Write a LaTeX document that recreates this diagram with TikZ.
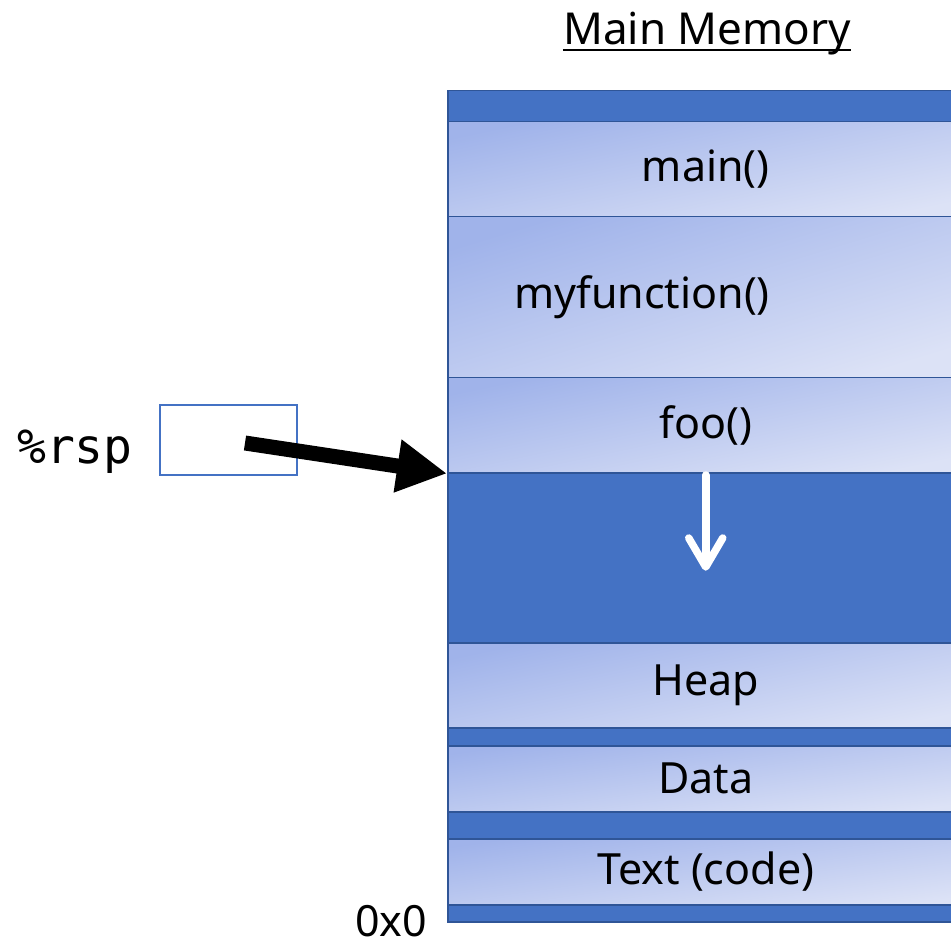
\documentclass[tikz,border=0pt]{standalone}
\usepackage{fontspec}
\setmainfont{Noto Sans}
\newfontfamily\rspmono{DejaVu Sans Mono}
\usetikzlibrary{arrows.meta}
\definecolor{memblue}{HTML}{4472C4}
\definecolor{memedge}{HTML}{2F5597}
\definecolor{shadeA}{HTML}{A0B3EA}
\definecolor{shadeB}{HTML}{DCE2F6}
\begin{document}
\begin{tikzpicture}[x=1pt,y=-1pt,
  bigtext/.style={font=\fontsize{43}{50}\selectfont},
  layer/.style={draw=memedge, line width=1.5pt, top color=shadeA, bottom color=shadeB,
    shading angle=12, minimum width=516pt, inner sep=0pt, anchor=north west, bigtext},
  gapbox/.style={draw=memedge, line width=1.5pt, fill=memblue, minimum width=516pt,
    inner sep=0pt, anchor=north west},
]
\useasboundingbox (0,0) rectangle (951,941);
\clip (0,0) rectangle (951,941);
\fill[white] (0,0) rectangle (951,941);
% memory column background
\node[gapbox, minimum height=831pt] (mem) at (447,90) {};
% layers
\node[layer, minimum height=95pt] (main) at (447,121) {main()};
\node[layer, minimum height=161pt, shading angle=17] (myf) at (447,216) {};
\node[bigtext, inner sep=0pt] (myftext) at (642,297) {myfunction()};
\node[layer, minimum height=95pt] (foo) at (447,377) {foo()};
\node[gapbox, minimum height=170pt] (gap) at (447,472) {};
\node[layer, minimum height=85pt] (heap) at (447,642) {Heap};
\node[layer, minimum height=66pt, shading angle=8] (data) at (447,745) {Data};
\node[layer, minimum height=66pt, shading angle=8] (text) at (447,838) {Text (code)};
% title
\node[font=\fontsize{44}{50}\selectfont, anchor=base, inner sep=0pt] (title) at (707,45) {Main Memory};
\draw[line width=2.5pt] ([yshift=-5pt]title.base west) -- ([yshift=-5pt]title.base east);
% address label
\node[bigtext, anchor=base, inner sep=0pt] (addr) at (391,936) {0x0};
% register
\node[font=\rspmono\fontsize{48}{54}\selectfont, anchor=base] (rsplabel) at (75,463) {\%rsp};
\node[draw=memblue, line width=2pt, minimum width=137pt, minimum height=70pt,
  inner sep=0pt, anchor=north west] (rsp) at (159,404) {};
\coordinate (rspptr) at (245,443);
\draw[line width=15pt, -{Triangle[length=50pt,width=50pt]}] (rspptr) -- (foo.south west);
% growth arrow
\draw[white, line width=7.5pt, line cap=round] ([yshift=-3pt]gap.north) -- ([yshift=-93pt]gap.north);
\draw[white, line width=7.5pt, line cap=round, line join=round]
  ([xshift=-17pt,yshift=-66pt]gap.north) -- ([yshift=-95pt]gap.north) -- ([xshift=17pt,yshift=-66pt]gap.north);
\end{tikzpicture}
\end{document}
